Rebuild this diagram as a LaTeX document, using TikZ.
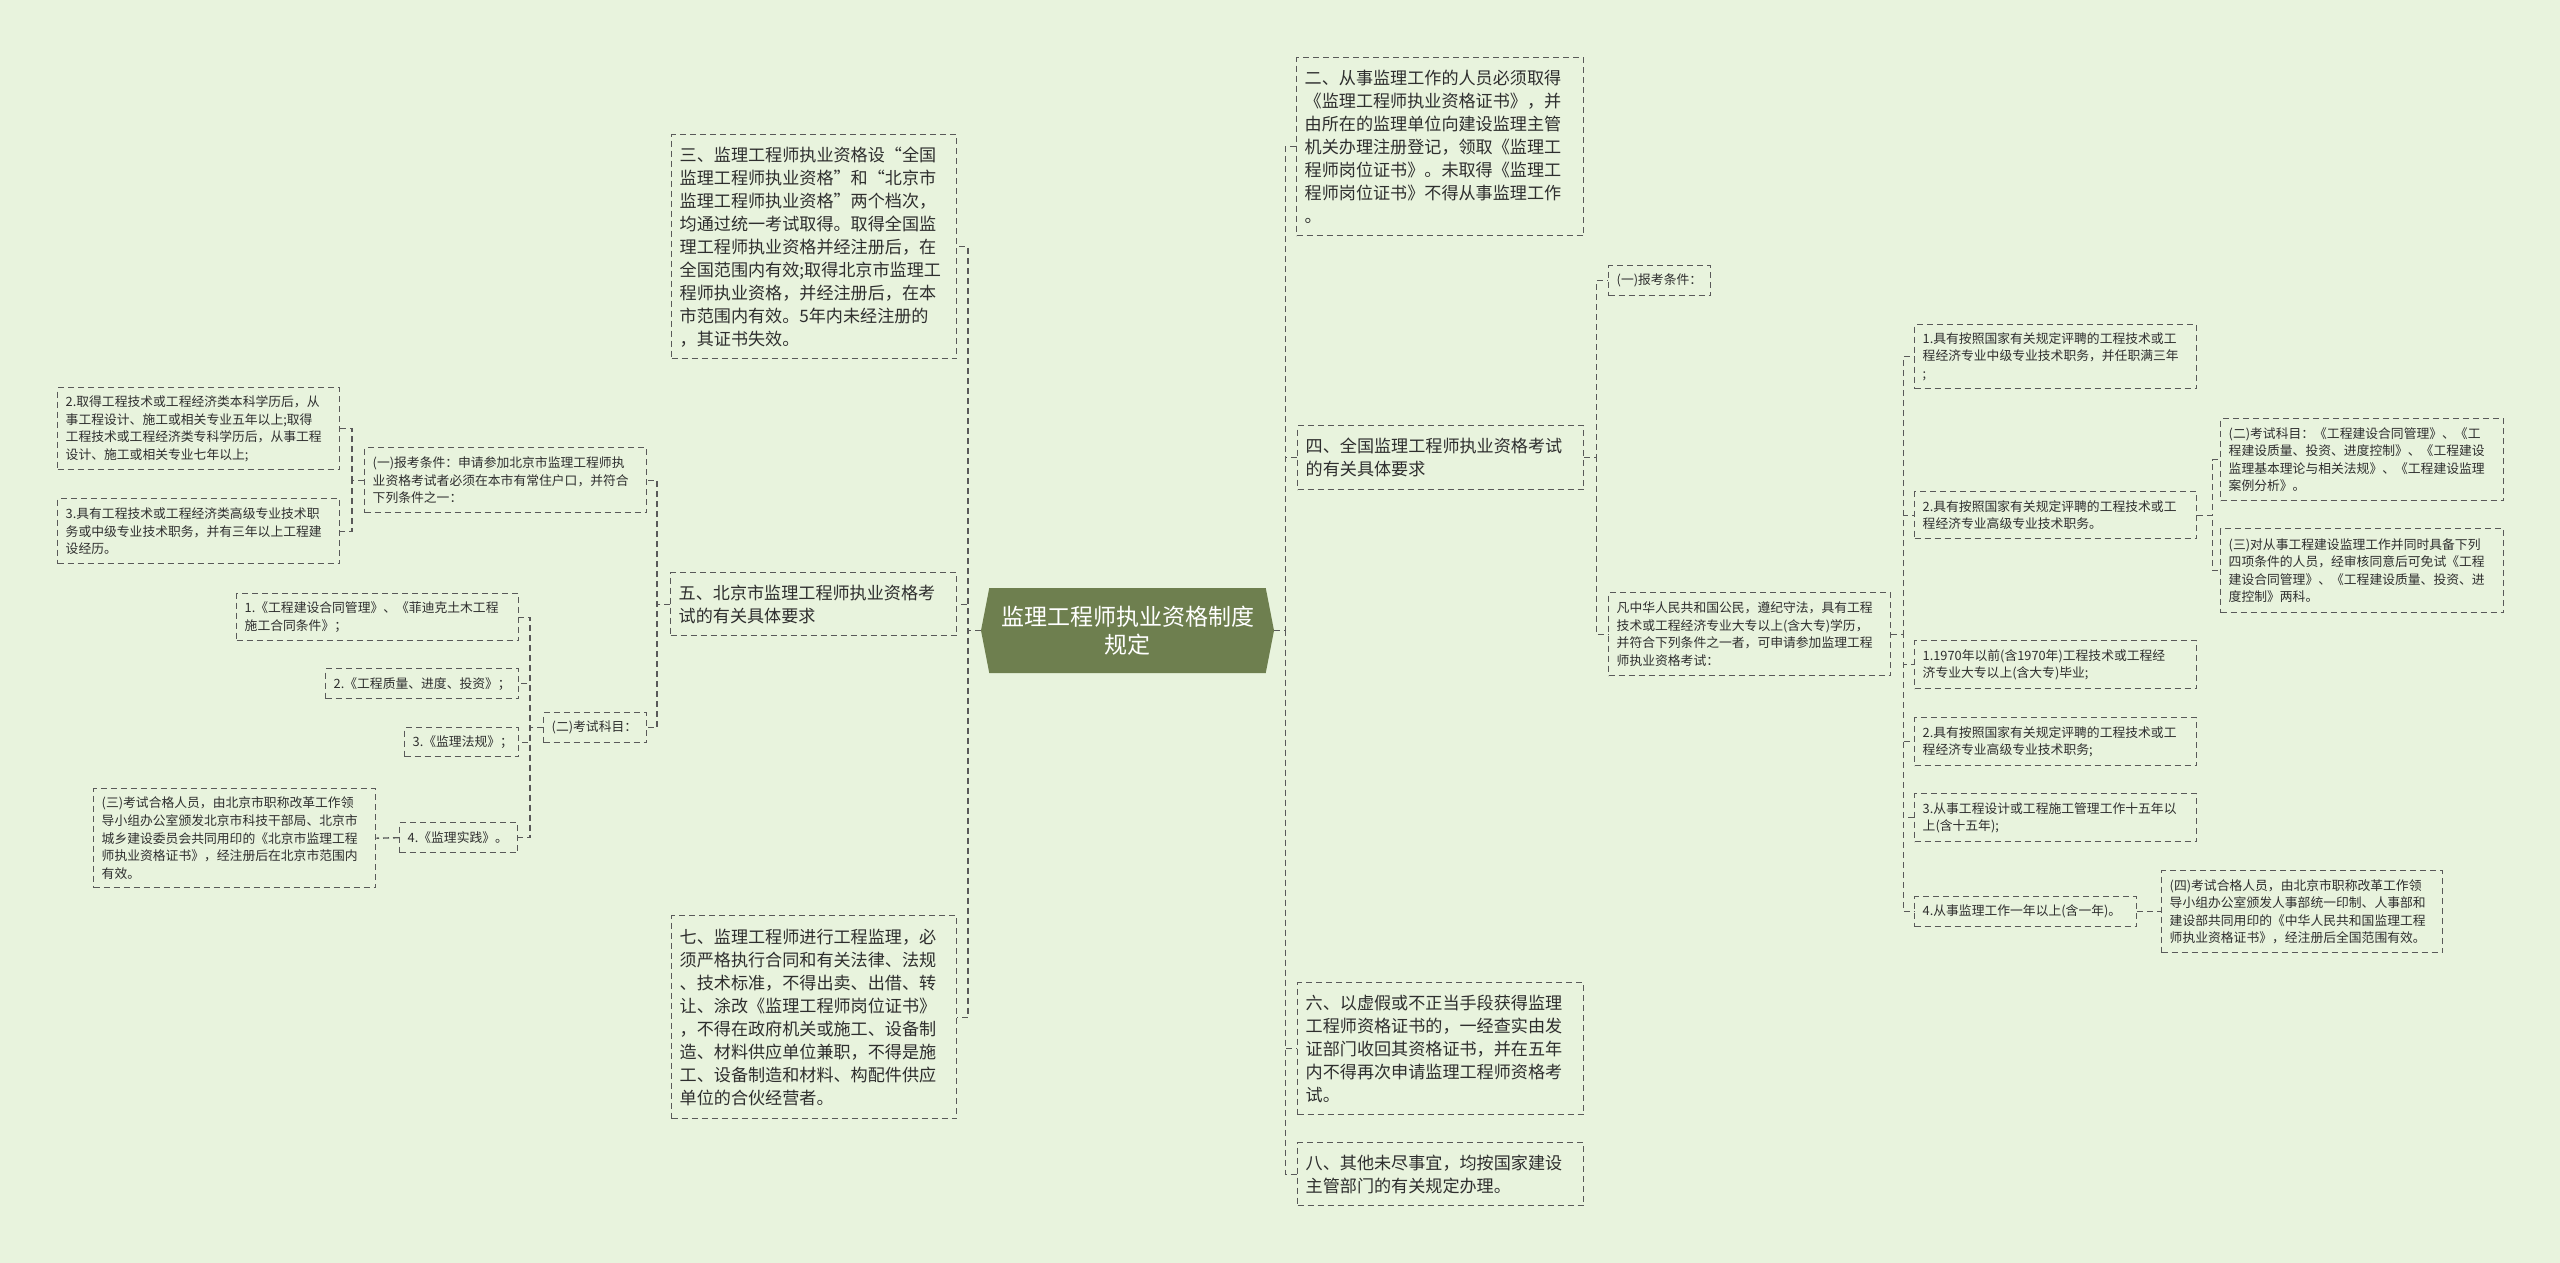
\documentclass[tikz,border=0pt]{standalone}
\usepackage{fontspec}
\setmainfont{Noto Sans CJK SC}
\usetikzlibrary{shapes.symbols}
\definecolor{bgc}{HTML}{E8F3DD}
\definecolor{hubc}{HTML}{6E7F4F}
\definecolor{linec}{HTML}{595959}
\definecolor{txtc}{HTML}{2E2E2E}
\newcommand{\bigf}{\fontsize{17.1}{23}\selectfont}
\newcommand{\smallf}{\fontsize{12.8}{17.6}\selectfont}
\newcommand{\hubf}{\fontsize{23}{28}\selectfont}

\begin{document}
\begin{tikzpicture}[x=1pt, y=-1pt,
  link/.style={draw=linec, line width=1.4pt, dash pattern=on 6pt off 4pt},
  topic/.style 2 args={draw=linec, line width=1.4pt, dash pattern=on 6pt off 4pt, anchor=north west, inner xsep=8pt, inner ysep=0pt, text width=#1, minimum height=#2, align=left, text=txtc, font=\bigf},
  leaf/.style 2 args={topic={#1}{#2}, font=\smallf},
  hub/.style={shape=signal, signal to=west and east, signal pointer angle=158, fill=hubc, text=white, font=\hubf, align=center, minimum width=293pt, minimum height=85pt, inner sep=0pt}]
  \fill[bgc] (0,0) rectangle (2560,1263);
  \useasboundingbox (0,0) rectangle (2560,1263);

  \node[hub] (c) at (1127.5,630.5) {监理工程师执业资格制度\\规定};

  \node[topic={269pt}{224}] (t3) at (671,134) {三、监理工程师执业资格设“全国\\监理工程师执业资格”和“北京市\\监理工程师执业资格”两个档次，\\均通过统一考试取得。取得全国监\\理工程师执业资格并经注册后，在\\全国范围内有效;取得北京市监理工\\程师执业资格，并经注册后，在本\\市范围内有效。5年内未经注册的\\，其证书失效。};
  \node[topic={270pt}{63}] (t5) at (670,572) {五、北京市监理工程师执业资格考\\试的有关具体要求};
  \node[topic={269pt}{203}] (t7) at (671,915) {七、监理工程师进行工程监理，必\\须严格执行合同和有关法律、法规\\、技术标准，不得出卖、出借、转\\让、涂改《监理工程师岗位证书》\\，不得在政府机关或施工、设备制\\造、材料供应单位兼职，不得是施\\工、设备制造和材料、构配件供应\\单位的合伙经营者。};

  \node[topic={271pt}{178}] (t2) at (1296,57) {二、从事监理工作的人员必须取得\\《监理工程师执业资格证书》，并\\由所在的监理单位向建设监理主管\\机关办理注册登记，领取《监理工\\程师岗位证书》。未取得《监理工\\程师岗位证书》不得从事监理工作\\。};
  \node[topic={270pt}{64}] (t4) at (1297,425) {四、全国监理工程师执业资格考试\\的有关具体要求};
  \node[topic={270pt}{132}] (t6) at (1297,982) {六、以虚假或不正当手段获得监理\\工程师资格证书的，一经查实由发\\证部门收回其资格证书，并在五年\\内不得再次申请监理工程师资格考\\试。};
  \node[topic={270pt}{63}] (t8) at (1297,1142) {八、其他未尽事宜，均按国家建设\\主管部门的有关规定办理。};

  \node[leaf={266pt}{65}] (a1) at (364,447) {(一)报考条件：申请参加北京市监理工程师执\\业资格考试者必须在本市有常住户口，并符合\\下列条件之一：};
  \node[leaf={266pt}{82}] (a12) at (57,387) {2.取得工程技术或工程经济类本科学历后，从\\事工程设计、施工或相关专业五年以上;取得\\工程技术或工程经济类专科学历后，从事工程\\设计、施工或相关专业七年以上;};
  \node[leaf={266pt}{65}] (a13) at (57,498) {3.具有工程技术或工程经济类高级专业技术职\\务或中级专业技术职务，并有三年以上工程建\\设经历。};
  \node[leaf={87pt}{30}] (a2) at (543,712) {(二)考试科目：};
  \node[leaf={266pt}{47}] (b1) at (236,593) {1.《工程建设合同管理》、《菲迪克土木工程\\施工合同条件》；};
  \node[leaf={177pt}{30}] (b2) at (325,668) {2.《工程质量、进度、投资》；};
  \node[leaf={98pt}{29}] (b3) at (404,727) {3.《监理法规》；};
  \node[leaf={102pt}{30}] (b4) at (399,822) {4.《监理实践》。};
  \node[leaf={266pt}{99}] (a3) at (93,788) {(三)考试合格人员，由北京市职称改革工作领\\导小组办公室颁发北京市科技干部局、北京市\\城乡建设委员会共同用印的《北京市监理工程\\师执业资格证书》，经注册后在北京市范围内\\有效。};

  \node[leaf={86pt}{30}] (r1) at (1608,265) {(一)报考条件：};
  \node[leaf={266pt}{83}] (r2) at (1608,592) {凡中华人民共和国公民，遵纪守法，具有工程\\技术或工程经济专业大专以上(含大专)学历，\\并符合下列条件之一者，可申请参加监理工程\\师执业资格考试：};
  \node[leaf={266pt}{64}] (s1) at (1914,324) {1.具有按照国家有关规定评聘的工程技术或工\\程经济专业中级专业技术职务，并任职满三年\\;};
  \node[leaf={266pt}{47}] (s2) at (1914,491) {2.具有按照国家有关规定评聘的工程技术或工\\程经济专业高级专业技术职务。};
  \node[leaf={266pt}{48}] (s3) at (1914,640) {1.1970年以前(含1970年)工程技术或工程经\\济专业大专以上(含大专)毕业;};
  \node[leaf={266pt}{48}] (s4) at (1914,717) {2.具有按照国家有关规定评聘的工程技术或工\\程经济专业高级专业技术职务;};
  \node[leaf={266pt}{48}] (s5) at (1914,793) {3.从事工程设计或工程施工管理工作十五年以\\上(含十五年);};
  \node[leaf={206pt}{30}] (s6) at (1914,896) {4.从事监理工作一年以上(含一年)。};
  \node[leaf={267pt}{82}] (q1) at (2220,418) {(二)考试科目：《工程建设合同管理》、《工\\程建设质量、投资、进度控制》、《工程建设\\监理基本理论与相关法规》、《工程建设监理\\案例分析》。};
  \node[leaf={267pt}{84}] (q2) at (2220,528) {(三)对从事工程建设监理工作并同时具备下列\\四项条件的人员，经审核同意后可免试《工程\\建设合同管理》、《工程建设质量、投资、进\\度控制》两科。};
  \node[leaf={265pt}{82}] (q3) at (2161,870) {(四)考试合格人员，由北京市职称改革工作领\\导小组办公室颁发人事部统一印制、人事部和\\建设部共同用印的《中华人民共和国监理工程\\师执业资格证书》，经注册后全国范围有效。};

  \foreach \k in {t3,t5,t7} \draw[link] (c.west) -- ++(-13,0) |- (\k.east);
  \foreach \k in {t2,t4,t6,t8} \draw[link] (c.east) -- ++(11,0) |- (\k.west);
  \foreach \k in {a1,a2} \draw[link] (t5.west) -- ++(-13,0) |- (\k.east);
  \foreach \k in {a12,a13} \draw[link] (a1.west) -- ++(-12,0) |- (\k.east);
  \foreach \k in {b1,b2,b3,b4} \draw[link] (a2.west) -- ++(-13,0) |- (\k.east);
  \draw[link] (b4.west) -- (a3.east);
  \foreach \k in {r1,r2} \draw[link] (t4.east) -- ++(12,0) |- (\k.west);
  \foreach \k in {s1,s2,s3,s4,s5,s6} \draw[link] (r2.east) -- ++(12,0) |- (\k.west);
  \foreach \k in {q1,q2} \draw[link] (s2.east) -- ++(15,0) |- (\k.west);
  \draw[link] (s6.east) -- (q3.west);
\end{tikzpicture}
\end{document}
